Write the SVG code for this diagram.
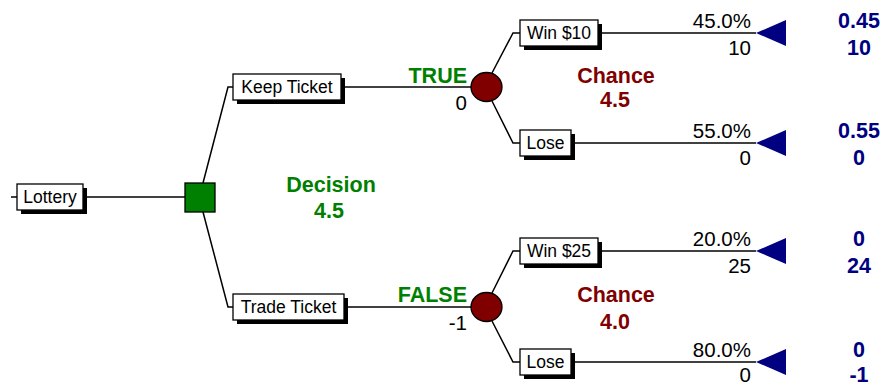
<svg xmlns="http://www.w3.org/2000/svg" width="886" height="386" viewBox="0 0 886 386">
  <defs>
    <style>
      .wire { fill: none; stroke: #000; stroke-width: 1.5; }
      .box { fill: #fff; stroke: #000; stroke-width: 1.3; }
      .shadow { fill: #000; }
      .name { font-family: "Liberation Sans", Arial, sans-serif; font-size: 17.5px; fill: #000; text-anchor: middle; }
      .num { font-family: "Liberation Sans", Arial, sans-serif; font-size: 20.5px; fill: #000; text-anchor: end; }
      .branch { font-family: "Liberation Sans", Arial, sans-serif; font-size: 21.5px; font-weight: bold; fill: #008000; text-anchor: end; }
      .dec { font-family: "Liberation Sans", Arial, sans-serif; font-size: 21.5px; font-weight: bold; fill: #008000; text-anchor: middle; }
      .chn { font-family: "Liberation Sans", Arial, sans-serif; font-size: 21.5px; font-weight: bold; fill: #800000; text-anchor: middle; }
      .res { font-family: "Liberation Sans", Arial, sans-serif; font-size: 21.5px; font-weight: bold; fill: #000080; text-anchor: middle; }
      .chance { fill: #800000; stroke: #000; stroke-width: 1.3; }
      .term { fill: #000080; }
    </style>
  </defs>

  <!-- connectors -->
  <g id="connectors" class="wire">
    <line x1="11" y1="197" x2="17" y2="197"/>
    <line x1="83" y1="197" x2="185" y2="197"/>
    <polyline points="203,183 228,87 233,87"/>
    <polyline points="203,212 228,307 233,307"/>
    <line x1="341" y1="87" x2="471" y2="87"/>
    <line x1="344" y1="307" x2="471" y2="307"/>
    <polyline points="492,73 513,33 520,33"/>
    <polyline points="492,101 513,143 520,143"/>
    <polyline points="492,293 513,251 520,251"/>
    <polyline points="492,321 513,362 520,362"/>
    <line x1="598" y1="33" x2="756" y2="33"/>
    <line x1="571" y1="143" x2="756" y2="143"/>
    <line x1="598" y1="251" x2="756" y2="251"/>
    <line x1="571" y1="362" x2="756" y2="362"/>
  </g>

  <!-- root -->
  <g id="lottery">
    <rect class="shadow" x="21" y="188" width="66" height="26"/>
    <rect class="box" x="17" y="184" width="66" height="26"/>
    <text class="name" x="50" y="203">Lottery</text>
  </g>

  <!-- decision node -->
  <g id="decision">
    <rect x="185" y="183" width="30" height="29" fill="#008000" stroke="#000" stroke-width="1.3"/>
    <text class="dec" x="331" y="192">Decision</text>
    <text class="dec" x="329" y="218">4.5</text>
  </g>

  <g id="keep-ticket">
    <rect class="shadow" x="237" y="78" width="108" height="26"/>
    <rect class="box" x="233" y="74" width="108" height="26"/>
    <text class="name" x="287" y="93">Keep Ticket</text>
    <text class="branch" x="467" y="83">TRUE</text>
    <text class="num" x="467" y="110">0</text>
  </g>

  <g id="trade-ticket">
    <rect class="shadow" x="237" y="298" width="111" height="26"/>
    <rect class="box" x="233" y="294" width="111" height="26"/>
    <text class="name" x="288.5" y="313">Trade Ticket</text>
    <text class="branch" x="467" y="302">FALSE</text>
    <text class="num" x="467" y="330">-1</text>
  </g>

  <!-- chance nodes -->
  <g id="chance-keep">
    <ellipse class="chance" cx="486.5" cy="87" rx="15.5" ry="14.5"/>
    <text class="chn" x="616" y="83">Chance</text>
    <text class="chn" x="615" y="107">4.5</text>
  </g>

  <g id="chance-trade">
    <ellipse class="chance" cx="486.5" cy="307" rx="15.5" ry="14.5"/>
    <text class="chn" x="616" y="302">Chance</text>
    <text class="chn" x="615" y="329">4.0</text>
  </g>

  <!-- outcomes -->
  <g id="win10">
    <rect class="shadow" x="524" y="24" width="78" height="26"/>
    <rect class="box" x="520" y="20" width="78" height="26"/>
    <text class="name" x="559" y="39">Win $10</text>
    <text class="num" x="751" y="28">45.0%</text>
    <text class="num" x="751" y="55">10</text>
    <polygon class="term" points="756,33 786,20 786,46"/>
    <text class="res" x="859" y="28">0.45</text>
    <text class="res" x="859" y="55">10</text>
  </g>

  <g id="lose-keep">
    <rect class="shadow" x="524" y="134" width="51" height="26"/>
    <rect class="box" x="520" y="130" width="51" height="26"/>
    <text class="name" x="545.5" y="149">Lose</text>
    <text class="num" x="751" y="138">55.0%</text>
    <text class="num" x="751" y="165">0</text>
    <polygon class="term" points="756,143 786,130 786,156"/>
    <text class="res" x="859" y="138">0.55</text>
    <text class="res" x="859" y="165">0</text>
  </g>

  <g id="win25">
    <rect class="shadow" x="524" y="242" width="78" height="26"/>
    <rect class="box" x="520" y="238" width="78" height="26"/>
    <text class="name" x="559" y="257">Win $25</text>
    <text class="num" x="751" y="246">20.0%</text>
    <text class="num" x="751" y="273">25</text>
    <polygon class="term" points="756,251 786,238 786,264"/>
    <text class="res" x="859" y="246">0</text>
    <text class="res" x="859" y="273">24</text>
  </g>

  <g id="lose-trade">
    <rect class="shadow" x="524" y="353" width="51" height="26"/>
    <rect class="box" x="520" y="349" width="51" height="26"/>
    <text class="name" x="545.5" y="368">Lose</text>
    <text class="num" x="751" y="357">80.0%</text>
    <text class="num" x="751" y="382">0</text>
    <polygon class="term" points="756,362 786,349 786,375"/>
    <text class="res" x="859" y="357">0</text>
    <text class="res" x="859" y="382">-1</text>
  </g>
</svg>
